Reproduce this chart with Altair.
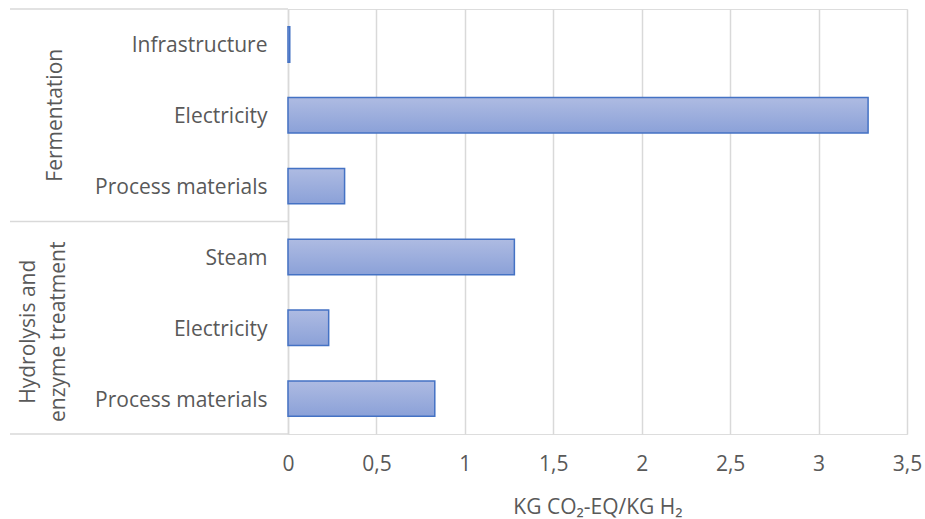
import altair as alt
import pandas as pd

# Emissions by process stage and source (kg CO2-eq per kg H2)
groups = ["Fermentation", "Fermentation", "Fermentation",
          "Hydrolysis and enzyme treatment", "Hydrolysis and enzyme treatment",
          "Hydrolysis and enzyme treatment"]
items = ["Infrastructure", "Electricity", "Process materials",
         "Steam", "Electricity", "Process materials"]
values = [0.01, 3.28, 0.32, 1.28, 0.23, 0.83]
x_ticks = [0, 0.5, 1, 1.5, 2, 2.5, 3, 3.5]

keys = [f"{g}|{i}" for g, i in zip(groups, items)]
df = pd.DataFrame({"key": keys, "group": groups, "item": items, "value": values})

W, H = 619, 425
GRAY = "#595959"
LINE = "#d9d9d9"
FONT = "Open Sans"
FS = 21

y_enc = alt.Y(
    "key:N",
    sort=keys,
    scale=alt.Scale(paddingInner=0.5, paddingOuter=0.25),
    axis=alt.Axis(
        title=None,
        labelExpr="split(datum.label, '|')[1]",
        ticks=False,
        grid=False,
        domain=True,
        domainColor=LINE,
        domainWidth=1.5,
        labelPadding=21,
        labelFontSize=FS,
        labelColor=GRAY,
        labelFont=FONT,
        labelBaseline="middle",
        labelOffset=2,
    ),
)

bars = alt.Chart(df).mark_bar(
    stroke="#4472c4",
    strokeWidth=1.5,
    color=alt.Gradient(
        gradient="linear",
        x1=0, x2=0, y1=0, y2=1,
        stops=[alt.GradientStop(color="#aebbe2", offset=0),
               alt.GradientStop(color="#8ba1d8", offset=1)],
    ),
).encode(
    x=alt.X(
        "value:Q",
        scale=alt.Scale(domain=[0, 3.5], nice=False),
        axis=alt.Axis(
            values=x_ticks,
            labelExpr="replace(toString(datum.value), '.', ',')",
            title="KG CO₂-EQ/KG H₂",
            titleFont=FONT,
            titleFontSize=FS,
            titleFontWeight="normal",
            titleColor=GRAY,
            titlePadding=22,
            labelFont=FONT,
            labelFontSize=FS,
            labelColor=GRAY,
            labelPadding=19,
            labelFlush=False,
            ticks=False,
            domain=False,
            grid=True,
            gridColor=LINE,
            gridWidth=1.5,
        ),
    ),
    y=y_enc,
)

# Group labels, rotated, centred on the middle row of each group
ferm = alt.Chart(pd.DataFrame({"key": [keys[1]], "label": ["Fermentation"]})).mark_text(
    angle=270, align="center", baseline="middle", font=FONT, fontSize=FS, color=GRAY
).encode(x=alt.value(-232), y=alt.Y("key:N", sort=keys), text="label:N")

hydro = alt.Chart(pd.DataFrame({"key": [keys[4]],
                                "label": ["Hydrolysis and\nenzyme treatment"]})).mark_text(
    angle=270, align="center", baseline="middle", font=FONT, fontSize=FS, color=GRAY,
    lineBreak="\n", lineHeight=30, dx=-4,
).encode(x=alt.value(-259), y=alt.Y("key:N", sort=keys), text="label:N")

# Frame lines of the category area: top, group separator, bottom
frame = alt.layer(*[
    alt.Chart(pd.DataFrame({"pos": [p]})).mark_rule(color=LINE, strokeWidth=1.5).encode(
        x=alt.value(-278), x2=alt.value(0), y=alt.value(yv)
    )
    for p, yv in [("top", 0), ("mid", H / 2), ("bottom", H)]
])

chart = alt.layer(bars, ferm, hydro, frame).resolve_scale(y="shared").properties(
    width=W,
    height=H,
    autosize=alt.AutoSizeParams(type="none"),
    padding={"left": 288, "top": 9, "right": 18, "bottom": 85},
).configure_view(stroke=None).configure(font=FONT)

chart.save("out.html", embed_options={"renderer": "svg", "actions": False})
